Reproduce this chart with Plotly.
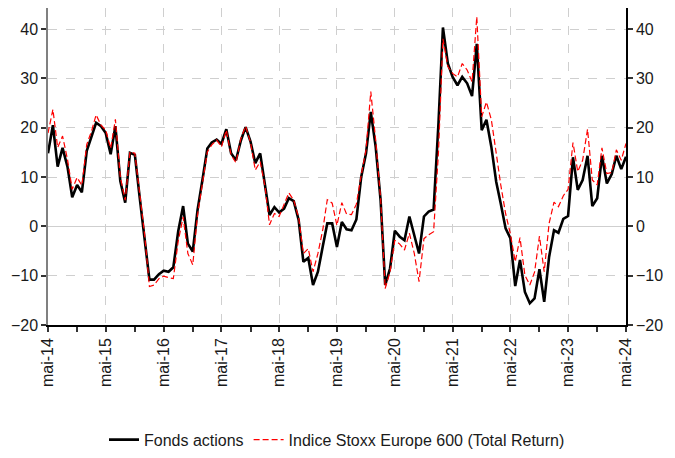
import pandas as pd
import plotly.graph_objects as go

start_month = "2014-05-01"
n_months = 121

fonds_actions = [
    14.8, 20.5, 12.1, 15.9, 12.1, 5.9, 8.4, 6.9, 15.3, 18.2,
    21.0, 20.3, 18.9, 14.6, 20.3, 9.2, 4.8, 14.9, 14.5, 6.0,
    -2.5, -10.8, -10.8, -9.7, -9.0, -9.2, -8.3, -1.0, 4.1, -3.5,
    -5.1, 3.3, 9.4, 15.8, 17.0, 17.6, 16.7, 19.7, 14.8, 13.4,
    17.4, 20.1, 17.2, 12.8, 14.8, 8.7, 2.3, 3.9, 2.8, 3.6,
    5.7, 5.1, 1.3, -7.2, -6.4, -11.9, -9.2, -4.0, 0.6, 0.6,
    -4.2, 0.9, -0.6, -0.8, 1.4, 9.9, 14.8, 23.2, 16.1, 5.3,
    -11.9, -8.5, -0.9, -2.1, -2.8, 2.0, -2.1, -5.5, 2.0, 3.0,
    3.4, 21.0, 40.3, 33.0, 30.3, 28.6, 30.3, 29.0, 26.4, 37.0,
    19.5, 21.6, 16.1, 9.0, 4.7, -0.4, -2.4, -12.1, -6.8, -13.3,
    -15.6, -14.6, -8.7, -15.3, -6.2, -0.8, -1.3, 1.5, 2.1, 14.0,
    7.4, 9.4, 14.3, 4.1, 5.7, 14.3, 8.7, 10.6, 14.3, 11.6,
    14.1,
]

indice_stoxx = [
    18.9, 23.7, 16.0, 18.3, 13.6, 7.5, 9.9, 8.3, 16.6, 19.4,
    22.6, 20.5, 19.5, 15.8, 21.7, 10.0, 5.3, 15.1, 14.8, 7.0,
    -1.5, -12.2, -11.9, -10.6, -10.1, -10.4, -10.6, -3.0, 1.9, -5.5,
    -7.8, 2.3, 8.4, 15.1, 16.5, 17.5, 16.1, 19.5, 14.5, 12.9,
    17.8, 20.3, 17.0, 11.4, 13.1, 8.0, 0.3, 2.6, 2.0, 4.3,
    6.8, 5.3, 1.8, -5.5, -4.5, -9.2, -5.5, -0.6, 5.4, 4.7,
    0.2, 4.8, 2.5, 2.4, 4.5, 10.3, 15.5, 27.3, 17.5, 5.7,
    -12.6, -9.2, -2.8, -3.6, -4.8, -1.4, -5.5, -11.2, -2.5, -1.7,
    -1.1, 15.1, 38.0, 32.4, 31.0, 30.3, 33.0, 31.7, 29.3, 42.5,
    22.2, 25.2, 21.6, 14.8, 8.5, 2.6, -1.5, -7.2, -2.3, -9.9,
    -11.9, -9.3, -2.0, -9.2, 0.6, 4.9, 4.0, 6.2, 7.5, 17.0,
    11.1, 13.4, 19.7, 9.4, 8.4, 15.9, 10.7, 10.9, 15.5, 13.4,
    16.8,
]

tick_labels = ["mai-14", "mai-15", "mai-16", "mai-17", "mai-18", "mai-19",
               "mai-20", "mai-21", "mai-22", "mai-23", "mai-24"]
y_ticks = [-20, -10, 0, 10, 20, 30, 40]

dates = pd.date_range(start_month, periods=n_months, freq="MS")
tick_dates = pd.date_range(start_month, periods=len(tick_labels), freq="12MS")

FONT = "Liberation Sans, Arial, sans-serif"
FS = 16

fig = go.Figure()
fig.add_trace(go.Scatter(
    x=dates, y=fonds_actions, mode="lines", name="Fonds actions",
    line=dict(color="black", width=2.6),
))
fig.add_trace(go.Scatter(
    x=dates, y=indice_stoxx, mode="lines",
    name="Indice Stoxx Europe 600 (Total Return)",
    line=dict(color="#ff0000", width=1.2, dash="6px,3px"),
))
# invisible trace to carry the right-hand axis
fig.add_trace(go.Scatter(
    x=dates, y=fonds_actions, mode="lines", yaxis="y2", showlegend=False,
    hoverinfo="skip", line=dict(color="rgba(0,0,0,0)", width=0),
))

yr = [-20, 44.26]
fig.update_layout(
    width=667, height=450,
    margin=dict(l=40, r=49, t=0, b=133, autoexpand=False),
    paper_bgcolor="white", plot_bgcolor="white",
    font=dict(family=FONT, size=FS, color="#1a1a1a"),
    showlegend=True,
    legend=dict(orientation="h", x=0.5, xanchor="center", y=-0.362,
                yanchor="middle", font=dict(size=FS, family=FONT),
                bgcolor="rgba(0,0,0,0)"),
    xaxis=dict(
        range=[dates[0], dates[-1]],
        tickmode="array", tickvals=tick_dates, ticktext=tick_labels,
        tickangle=-90, ticks="outside", ticklen=5, tickcolor="#333333",
        tickwidth=1.5,
        showgrid=True, gridcolor="#cfcfcf", griddash="dash", gridwidth=1,
        showline=True, linecolor="black", linewidth=1.5,
        minor=dict(dtick="M6", tick0=start_month, ticks="outside",
                   ticklen=5, tickcolor="#333333", tickwidth=1.5,
                   showgrid=False),
        tickfont=dict(size=FS, family=FONT),
        zeroline=False, automargin=False,
    ),
    yaxis=dict(
        range=yr, tickvals=y_ticks,
        ticks="outside", ticklen=5, tickcolor="#333333", tickwidth=1.5,
        showgrid=True, gridcolor="#cfcfcf", griddash="dash", gridwidth=1,
        zeroline=True, zerolinecolor="#cfcfcf", zerolinewidth=1.2,
        showline=True, linecolor="#808080", linewidth=1.5,
        tickfont=dict(size=FS, family=FONT), automargin=False,
    ),
    yaxis2=dict(
        range=yr, tickvals=y_ticks, overlaying="y", side="right",
        ticks="outside", ticklen=5, tickcolor="#333333", tickwidth=1.5,
        showgrid=False, zeroline=False,
        showline=True, linecolor="black", linewidth=1.5,
        tickfont=dict(size=FS, family=FONT), automargin=False,
    ),
)

fig.write_html("out.html")
